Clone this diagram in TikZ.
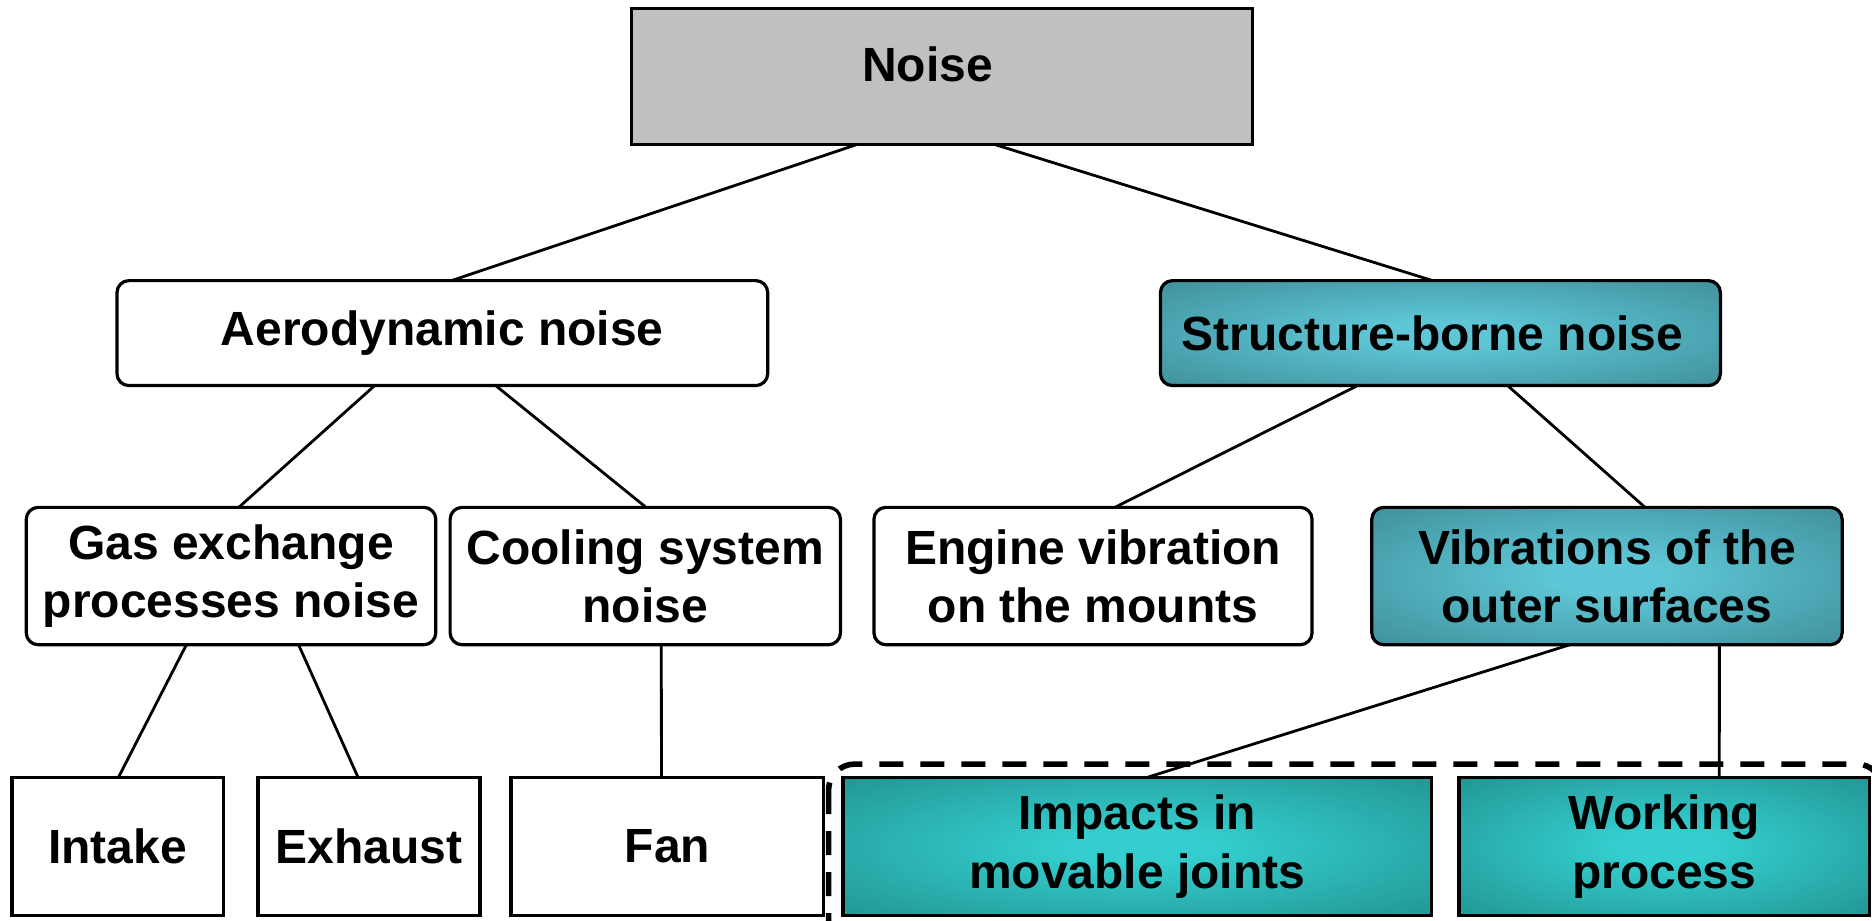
\documentclass[tikz,border=0pt]{standalone}
\usepackage{fontspec}
\setmainfont{Liberation Sans}
\usetikzlibrary{calc}
\definecolor{grayfill}{RGB}{192,192,192}
\definecolor{tealAin}{RGB}{52,206,206}
\definecolor{tealAout}{RGB}{30,138,136}
\definecolor{tealBin}{RGB}{94,198,214}
\definecolor{tealBout}{RGB}{58,132,142}
\pgfdeclareradialshading{tealA}{\pgfpoint{0bp}{0bp}}{color(0bp)=(tealAin); color(6bp)=(tealAin); color(42bp)=(tealAout); color(50bp)=(tealAout)}
\pgfdeclareradialshading{tealB}{\pgfpoint{0bp}{0bp}}{color(0bp)=(tealBin); color(6bp)=(tealBin); color(42bp)=(tealBout); color(50bp)=(tealBout)}
\tikzset{
  base/.style={draw=black, line width=1.6pt, inner sep=0pt, outer sep=0pt, align=center,
    font=\fontsize{24}{29.2}\selectfont\bfseries},
  sqbox/.style={base, fill=white, rectangle},
  rbox/.style={base, fill=white, rounded corners=6pt},
  graybox/.style={base, fill=grayfill},
  tealupper/.style={base, rounded corners=6pt, shading=tealB},
  teallower/.style={base, shading=tealA},
  conn/.style={draw=black, line width=1.4pt},
  frame/.style={draw=black, line width=2.8pt, dash pattern=on 12pt off 8.5pt, rounded corners=13pt},
}
\begin{document}
\begin{tikzpicture}[x=0.597pt, y=-0.597pt]
\useasboundingbox (0,0) rectangle (1568,771);
% dashed frame
\coordinate (frameNW) at (694,640);
\coordinate (frameSE) at (1577,792);
\draw[frame] (frameNW) rectangle (frameSE);
% boxes
\node[graybox, minimum width=310.4pt, minimum height=68.1pt] (noise) at (789,64) {};
\node[font=\fontsize{24}{29.2}\selectfont\bfseries] (noiselabel) at (777,54) {Noise};
\node[rbox, minimum width=325.4pt, minimum height=52.5pt] (aero) at (370.5,279) {Aerodynamic noise};
\node[tealupper, minimum width=280pt, minimum height=52.5pt] (struct) at (1206.5,279) {Structure-borne noise\hspace*{8pt}};
\node[rbox, minimum width=204.8pt, minimum height=68.7pt] (gas) at (193.5,482.5) {Gas exchange\\processes noise};
\node[rbox, minimum width=195.2pt, minimum height=68.7pt] (cool) at (540.5,482.5) {Cooling system\\noise};
\node[rbox, minimum width=219.1pt, minimum height=68.7pt] (engine) at (915.5,482.5) {Engine vibration\\on the mounts};
\node[tealupper, minimum width=235.2pt, minimum height=68.7pt] (vibr) at (1346,482.5) {Vibrations of the\\outer surfaces};
\node[sqbox, minimum width=105.7pt, minimum height=68.7pt] (intake) at (98.5,709) {Intake};
\node[sqbox, minimum width=111pt, minimum height=68.7pt] (exhaust) at (309,709) {Exhaust};
\node[sqbox, minimum width=156.4pt, minimum height=68.7pt] (fan) at (559,709) {Fan};
\node[teallower, minimum width=294.3pt, minimum height=68.7pt] (impacts) at (952.5,709) {Impacts in\\movable joints};
\node[teallower, minimum width=205.4pt, minimum height=68.7pt] (working) at (1394,709) {Working\\process};
% connectors
\draw[conn] ($(noise.south west)!0.363!(noise.south east)$) -- ($(aero.north west)!0.514!(aero.north east)$);
\draw[conn] ($(noise.south west)!0.585!(noise.south east)$) -- ($(struct.north west)!0.486!(struct.north east)$);
\draw[conn] ($(aero.south west)!0.396!(aero.south east)$) -- ($(gas.north west)!0.519!(gas.north east)$);
\draw[conn] ($(aero.south west)!0.582!(aero.south east)$) -- ($(cool.north west)!0.502!(cool.north east)$);
\draw[conn] ($(struct.south west)!0.352!(struct.south east)$) -- ($(engine.north west)!0.550!(engine.north east)$);
\draw[conn] ($(struct.south west)!0.620!(struct.south east)$) -- ($(vibr.north west)!0.581!(vibr.north east)$);
\draw[conn] ($(gas.south west)!0.391!(gas.south east)$) -- ($(intake.north west)!0.503!(intake.north east)$);
\draw[conn] ($(gas.south west)!0.665!(gas.south east)$) -- ($(exhaust.north west)!0.452!(exhaust.north east)$);
\draw[conn] ($(cool.south west)!0.541!(cool.south east)$) -- ($(fan.north west)!0.481!(fan.north east)$);
\draw[conn] ($(vibr.south west)!0.421!(vibr.south east)$) -- ($(impacts.north west)!0.515!(impacts.north east)$);
\draw[conn] ($(vibr.south west)!0.739!(vibr.south east)$) -- ($(working.north west)!0.634!(working.north east)$);
\end{tikzpicture}
\end{document}
